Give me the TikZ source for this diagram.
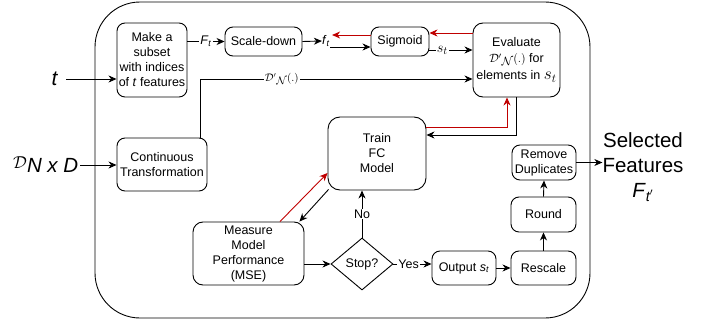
\documentclass[tikz,border=0pt]{standalone}
\usepackage{fontspec}
\setmainfont{Liberation Sans}
\usetikzlibrary{arrows.meta,shapes.geometric,calc}
\newcommand\itsub[2]{\textit{#1}\textsubscript{\textit{#2}}}
\newcommand\dprime[1]{{\fontsize{#1}{#1}\selectfont$\mathcal{D}'$\raisebox{-2.5pt}{$\mathcal{N}$}$\mathit{(.)}$}}
\begin{document}
\begin{tikzpicture}[x=1pt,y=-1pt,
  every node/.style={font=\fontsize{12.5}{15}\selectfont},
  box/.style={draw, line width=0.9pt, rounded corners=8pt, align=center, inner sep=0pt},
  arr/.style={draw, line width=0.9pt, -{Stealth[length=8pt,width=7pt,inset=2.5pt]}},
  redarr/.style={arr, draw={rgb,255:red,192;green,0;blue,0}},
  lbl/.style={fill=white, inner sep=1pt}]
\useasboundingbox (0,0) rectangle (704,321);
% frame
\draw[line width=0.9pt, rounded corners=45pt] (95,2) rectangle (590,318);
% nodes
\node[box, minimum width=70pt, minimum height=74pt] (make) at (152,60) {Make a\\subset\\with indices\\of \textit{t} features};
\node[box, minimum width=77pt, minimum height=29pt] (scale) at (263.5,41.5) {Scale-down};
\node[inner sep=0pt] (ft) at (326,41) {\itsub{f}{t}};
\node[box, minimum width=58pt, minimum height=29pt] (sig) at (400,41.5) {Sigmoid};
\node[box, rounded corners=10pt, minimum width=87pt, minimum height=74pt] (eval) at (516.5,60) {Evaluate\\[1pt]\dprime{11.5} for\\[2pt]elements in {\fontsize{17}{17}\selectfont$s_t$}};
\node[inner sep=0pt] (t) at (55,79) {\fontsize{21}{21}\selectfont\textit{t}};
\node[box, minimum width=90pt, minimum height=53pt] (cont) at (162,164.5) {Continuous\\Transformation};
\node[inner sep=0pt, anchor=west] (dnxd) at (13,165) {\raisebox{4pt}{\fontsize{18}{18}\selectfont$\mathcal{D}$}\fontsize{20.5}{25}\selectfont\textit{N x D}};
\node[box, rounded corners=12pt, minimum width=98pt, minimum height=73pt] (train) at (377,153.5) {Train\\FC\\Model};
\node[box, rounded corners=10pt, minimum width=111pt, minimum height=63pt] (meas) at (248.5,253.5) {Measure\\Model\\Performance\\(MSE)};
\node[draw, line width=0.9pt, diamond, inner sep=0pt, minimum width=62pt, minimum height=52pt] (stop) at (362,264) {Stop?};
\node[box, minimum width=64pt, minimum height=34pt] (out) at (464,268) {Output \itsub{s}{t}};
\node[box, minimum width=65pt, minimum height=34pt] (resc) at (543.5,268) {Rescale};
\node[box, minimum width=65pt, minimum height=35pt] (round) at (543.5,214.5) {Round};
\node[box, minimum width=64pt, minimum height=35pt] (remdup) at (544,162.5) {Remove\\Duplicates};
\node[inner sep=0pt, align=center, font=\fontsize{20.5}{25}\selectfont] (sel) at (643,167) {Selected\\Features\\\itsub{F}{t$'$}};
% connectors
\draw[arr] ([xshift=8pt]t.east) -- (make.west |- t);
\draw[arr] ([xshift=2pt]dnxd.east) -- (cont.west |- dnxd);
\draw[arr] (make.east |- scale) -- node[lbl]{\itsub{F}{t}} (scale.west);
\draw[arr] (scale.east) -- (ft.west);
\draw[arr] ([yshift=-5.5pt]sig.west -| ft.east) -- ([yshift=-5.5pt]sig.west);
\draw[redarr] ([yshift=6.5pt]sig.west) -- ([yshift=6.5pt,xshift=2pt]sig.west -| ft.east);
\draw[redarr] ([yshift=27pt]eval.west) -- ([yshift=27pt]eval.west -| sig.east);
\draw[arr] ([yshift=-8.5pt]sig.east) -- node[lbl, pos=0.3]{\fontsize{15}{15}\selectfont$s_t$} ([yshift=-8.5pt]sig.east -| eval.west);
\draw[arr] ([xshift=38pt]cont.north) |- node[lbl, pos=0.65]{\dprime{10.5}} ([yshift=-19pt]eval.west);
\draw[arr] (eval.south) |- ([yshift=18.5pt]train.east);
\draw[redarr] ([yshift=26.5pt]train.east) -| ([xshift=-9.5pt]eval.south);
\draw[redarr] ([xshift=31.5pt]meas.north) -- ([yshift=-19.5pt]train.west);
\draw[arr] ([xshift=1pt,yshift=1pt]train.south west) -- ([xshift=-5pt]meas.north east);
\draw[arr] (meas.east |- stop.west) -- (stop.west);
\draw[arr] (stop.north) -- node[lbl]{No} (stop.north |- train.south);
\draw[arr] (stop.east) -- node[lbl, pos=0.4]{Yes} (out.west |- stop.east);
\draw[arr] (out.east) -- (resc.west);
\draw[arr] (resc.north) -- (round.south);
\draw[arr] (round.north) -- (remdup.south);
\draw[arr] (remdup.east) -- (remdup.east -| sel.west);
\end{tikzpicture}
\end{document}
